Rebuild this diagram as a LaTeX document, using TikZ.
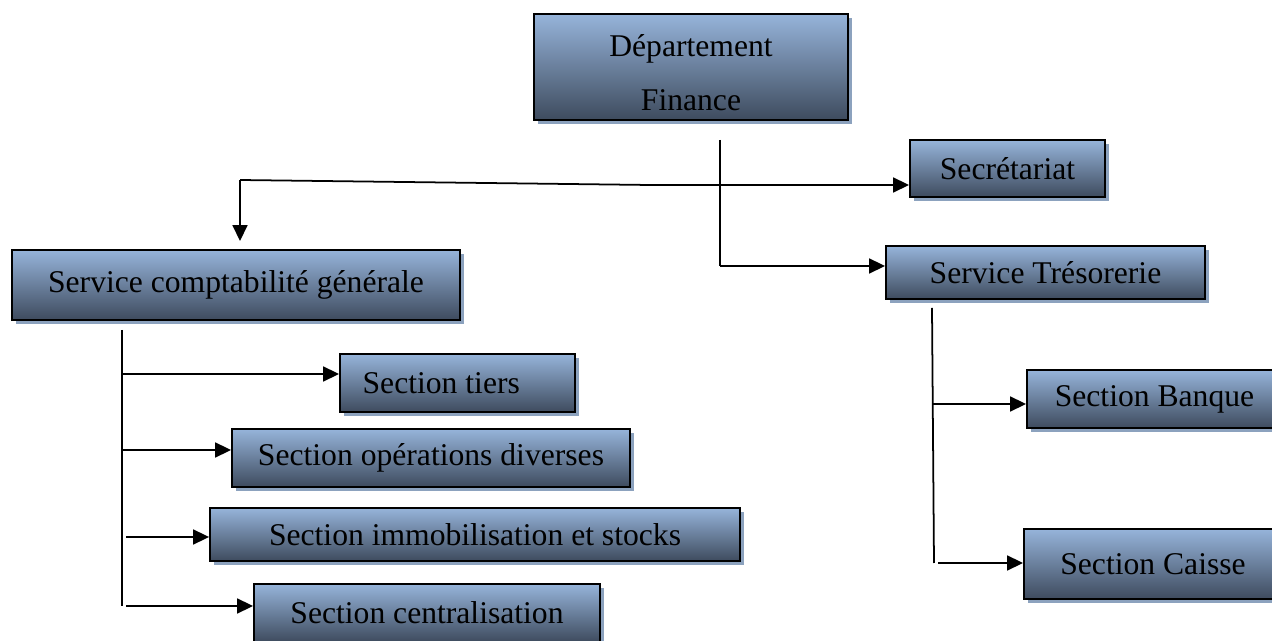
\documentclass[tikz,border=0pt]{standalone}
\usepackage{fontspec}
\setmainfont{Liberation Serif}
\usepackage{tikz}
\usetikzlibrary{arrows.meta,shadows}
\usepackage{xcolor}
\definecolor{boxtop}{RGB}{150,180,218}
\definecolor{boxbottom}{RGB}{62,75,94}
\definecolor{boxshadow}{RGB}{140,162,190}

\tikzset{
  box/.style={draw=black, line width=1.1pt, inner sep=0pt,
    top color=boxtop, bottom color=boxbottom,
    drop shadow={shadow xshift=0.8mm, shadow yshift=-0.8mm, opacity=1, fill=boxshadow},
    font=\fontsize{18}{21}\selectfont},
  link/.style={line width=1pt},
  arr/.style={link, -{Triangle[length=3.2mm, width=3mm]}}
}

\begin{document}
\begin{tikzpicture}[x=0.02cm, y=-0.02cm]
  \useasboundingbox (0,0) rectangle (1272,641);
  \clip (0,0) rectangle (1272,641);

  % boxes
  \node[box, minimum width=6.28cm, minimum height=2.12cm, align=center,
        font=\fontsize{18}{31}\selectfont] (dept) at (691,67) {\rule{0pt}{19pt}Département\\Finance};
  \node[box, minimum width=3.9cm, minimum height=1.14cm] (secr) at (1007.5,168.5) {Secrétariat};
  \node[box, minimum width=6.38cm, minimum height=1.06cm] (treso) at (1045.5,272.5) {Service Trésorerie};
  \node[box, minimum width=8.96cm, minimum height=1.4cm] (compta) at (236,285) {Service comptabilité générale};
  \node[box, minimum width=4.7cm, minimum height=1.16cm] (tiers) at (457.5,383) {Section tiers\kern0.65cm};
  \node[box, minimum width=7.96cm, minimum height=1.16cm] (ops) at (431,458) {Section opérations diverses};
  \node[box, minimum width=10.6cm, minimum height=1.06cm] (immo) at (475,534.5) {Section immobilisation et stocks};
  \node[box, minimum width=6.92cm, minimum height=1.16cm] (centr) at (427,613) {Section centralisation};
  \node[box, minimum width=5.1cm, minimum height=1.16cm] (banque) at (1154.5,399) {Section Banque};
  \node[box, minimum width=5.16cm, minimum height=1.4cm] (caisse) at (1153,564) {Section Caisse};

  % junctions
  \coordinate (d0) at (720,140);
  \coordinate (d1) at (720,266);
  \coordinate (s0) at (240,180);
  \coordinate (s1) at (650,185);
  \coordinate (l0) at (122,330);
  \coordinate (l1) at (122,374);
  \coordinate (l2) at (122,450);
  \coordinate (l3) at (126,537);
  \coordinate (l4) at (122,606);
  \coordinate (l5) at (126,606);
  \coordinate (r0) at (932,308);
  \coordinate (r1) at (932,404);
  \coordinate (r2) at (934,563);
  \coordinate (r3) at (938,563);

  % connectors
  \draw[link] (d0) -- (d1);
  \draw[arr] (d1) -- (d1 -| treso.west);
  \draw[arr] (s0) -- (s1) -- (s1 -| secr.west);
  \draw[arr, shorten >=0.16cm] (s0) -- (s0 |- compta.north);

  \draw[link] (l0) -- (l4);
  \draw[arr] (l1) -- (l1 -| tiers.west);
  \draw[arr] (l2) -- (l2 -| ops.west);
  \draw[arr] (l3) -- (l3 -| immo.west);
  \draw[arr] (l5) -- (l5 -| centr.west);

  \draw[link] (r0) -- (r2);
  \draw[arr] (r1) -- (r1 -| banque.west);
  \draw[arr] (r3) -- (r3 -| caisse.west);
\end{tikzpicture}
\end{document}
